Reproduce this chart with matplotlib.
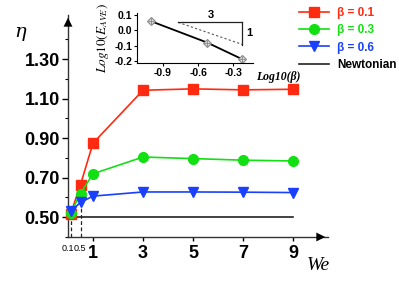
import matplotlib
matplotlib.use("Agg")
import matplotlib.pyplot as plt
import numpy as np

plt.rcParams['font.family'] = ['Liberation Sans', 'DejaVu Sans']
plt.rcParams['mathtext.fontset'] = 'stix'

we = [0.1, 0.5, 1, 3, 5, 7, 9]
eta_b01 = [0.515, 0.665, 0.875, 1.143, 1.150, 1.145, 1.148]
eta_b03 = [0.52, 0.62, 0.72, 0.805, 0.797, 0.789, 0.785]
eta_b06 = [0.53, 0.575, 0.607, 0.628, 0.628, 0.627, 0.625]
newt_x = [0, 9]
newt_y = [0.5, 0.5]
labels = ["β = 0.1", "β = 0.3", "β = 0.6", "Newtonian"]
major_ticks = [1, 3, 5, 7, 9]
small_ticks = [0.1, 0.5]
yticks = [0.5, 0.7, 0.9, 1.1, 1.3]

# inset data
log_beta = [-1.0, -0.523, -0.222]
log_e = [0.06, -0.08, -0.19]
slope_x = [-0.77, -0.22]
slope_y = [0.053, -0.093]

red = '#ff2a10'
green = '#12e012'
blue = '#1a40ff'

W, H = 399, 282
fig = plt.figure(figsize=(W/100, H/100), dpi=100)
ax = fig.add_axes([68/W, 1-237/H, 260/W, 222/H])
ax.set_xlim(0, 10.4)
ax.set_ylim(0.4, 1.524)
for s in ['top', 'right']:
    ax.spines[s].set_visible(False)
for s in ['left', 'bottom']:
    ax.spines[s].set_linewidth(1.0)
    ax.spines[s].set_color('#333333')

l1, = ax.plot(we, eta_b01, '-s', color=red, ms=6.5, lw=1.2, clip_on=False, zorder=3)
l2, = ax.plot(we, eta_b03, '-o', color=green, ms=7, lw=1.2, clip_on=False, zorder=4)
l3, = ax.plot(we, eta_b06, '-v', color=blue, ms=7.5, lw=1.2, clip_on=False, zorder=5)
l4, = ax.plot(newt_x, newt_y, '-', color='#222222', lw=1.2, zorder=2)

for xv, yv in zip(small_ticks, [eta_b01[0], eta_b01[1]]):
    ax.plot([xv, xv], [0.4, yv], '--', color='#222222', lw=0.9, dashes=(3, 2), zorder=1)

ax.set_yticks(yticks)
ax.set_yticklabels([f"{v:.2f}" for v in yticks], fontsize=13, fontweight='bold')
ax.set_yticks(np.arange(0.4, 1.45, 0.1), minor=True)
ax.tick_params(axis='y', which='major', length=4, width=1, pad=2, direction='out')
ax.tick_params(axis='y', which='minor', length=2.5, width=0.8, direction='out')
ax.set_xticks(major_ticks)
ax.set_xticklabels([str(v) for v in major_ticks], fontsize=13, fontweight='bold')
ax.tick_params(axis='x', which='major', length=3, width=1, pad=3, direction='out')
for xv, dx in zip(small_ticks, [-0.12, -0.02]):
    ax.text(xv + dx, 0.4 - 0.057, str(xv), fontsize=6.5, ha='center', va='center', transform=ax.transData)

# arrow heads
ax.annotate('', xy=(1.0, 0), xytext=(0.94, 0), xycoords='axes fraction',
            arrowprops=dict(arrowstyle='-|>', color='k', lw=0, mutation_scale=16))
ax.annotate('', xy=(0, 1.0), xytext=(0, 0.94), xycoords='axes fraction',
            arrowprops=dict(arrowstyle='-|>', color='k', lw=0, mutation_scale=16))

fig.text(318/W, 1-266/H, 'We', fontsize=14, family=['Liberation Serif'], style='italic', ha='center', va='center')
fig.text(20/W, 1-32/H, 'η', fontsize=14, family=['DejaVu Serif'], style='italic', ha='center', va='center')

leg = fig.legend([l1, l2, l3, l4], labels, loc='upper left', bbox_to_anchor=(299/W, 1-7/H),
                 frameon=False, fontsize=8.5, handlelength=2.5, handletextpad=0.75,
                 labelspacing=0.45, borderaxespad=0, borderpad=0)
for t, c in zip(leg.get_texts(), [red, green, blue, 'black']):
    t.set_color(c)
    t.set_fontweight('bold')

# inset
ix = fig.add_axes([137/W, 1-63/H, 116/W, 50/H])
ix.set_xlim(-1.123, -0.13)
ix.set_ylim(-0.215, 0.115)
ix.patch.set_alpha(0)
for s in ['top', 'right']:
    ix.spines[s].set_visible(False)
ix.plot(log_beta, log_e, '-', color='k', lw=1.3)
ix.plot(log_beta, log_e, 'D', ms=4.5, mfc='#dddddd', mec='#888888', mew=0.8)
ix.plot(log_beta, log_e, '+', ms=4.5, color='#888888', mew=0.6)
ix.plot(slope_x, slope_y, '--', color='#555555', lw=0.8, dashes=(2, 2))
ix.plot([slope_x[0], slope_x[1]], [slope_y[0], slope_y[0]], '-', color='#222222', lw=0.9)
ix.plot([slope_x[1], slope_x[1]], [slope_y[0], slope_y[1]], '-', color='#222222', lw=0.9)
ix.text((slope_x[0] + slope_x[1]) / 2, slope_y[0] + 0.015, '3', fontsize=8, fontweight='bold', ha='center', va='bottom')
ix.text(slope_x[1] + 0.03, (slope_y[0] + slope_y[1]) / 2, '1', fontsize=8, fontweight='bold', ha='left', va='center')
ix.set_xticks([-0.9, -0.6, -0.3])
ix.set_xticklabels(['-0.9', '-0.6', '-0.3'], fontsize=7.5, fontweight='bold')
ix.set_yticks([0.1, 0.0, -0.1, -0.2])
ix.set_yticklabels(['0.1', '0.0', '-0.1', '-0.2'], fontsize=7.5, fontweight='bold')
ix.tick_params(length=2, width=0.8, pad=1.5)
ix.set_ylabel(r'$\mathbf{\mathit{Log10(E_{AVE})}}$', fontsize=9.5, labelpad=2)
fig.text(256/W, 1-77/H, 'Log10(β)', fontsize=8.5, family=['Liberation Serif'], style='italic', fontweight='bold', ha='left', va='center')

fig.savefig('out.png', dpi=100)
